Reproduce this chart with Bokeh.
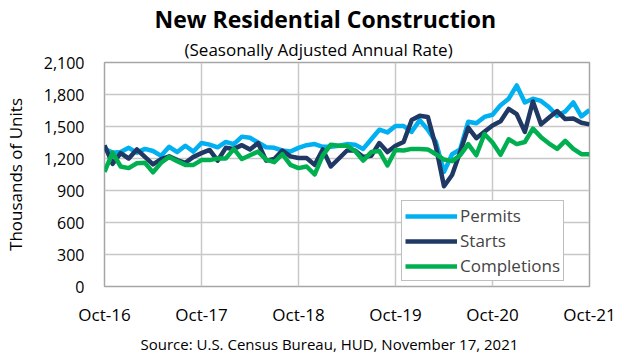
from bokeh.plotting import figure
from bokeh.models import (ColumnDataSource, Legend, LegendItem, Title,
                          FixedTicker, NumeralTickFormatter, Range1d)
from bokeh.embed import file_html
from bokeh.resources import INLINE

# ---- data (thousands of units, SAAR), monthly Oct-2016 .. Oct-2021 ----
months = list(range(61))
permits = [1290, 1255, 1260, 1300, 1255, 1290, 1270, 1225, 1310, 1260, 1320, 1265,
           1345, 1330, 1305, 1355, 1335, 1405, 1395, 1350, 1305, 1300, 1275, 1265,
           1300, 1325, 1335, 1310, 1310, 1320, 1335, 1330, 1290, 1380, 1470, 1445,
           1505, 1505, 1450, 1560, 1470, 1355, 1075, 1240, 1285, 1545, 1530, 1590,
           1610, 1700, 1760, 1885, 1725, 1760, 1740, 1680, 1600, 1640, 1725, 1595,
           1655]
starts = [1323, 1150, 1250, 1200, 1285, 1215, 1145, 1195, 1220, 1185, 1160, 1215,
          1250, 1280, 1180, 1300, 1290, 1325, 1285, 1345, 1180, 1195, 1275, 1220,
          1205, 1205, 1140, 1285, 1125, 1200, 1275, 1275, 1215, 1225, 1345, 1260,
          1320, 1355, 1560, 1600, 1590, 1310, 940, 1045, 1260, 1490, 1390, 1450,
          1510, 1550, 1665, 1615, 1450, 1735, 1520, 1585, 1645, 1570, 1575, 1535,
          1520]
completions = [1075, 1255, 1125, 1110, 1155, 1160, 1070, 1160, 1215, 1175, 1140, 1140,
               1185, 1185, 1200, 1200, 1290, 1195, 1230, 1265, 1190, 1165, 1240, 1140,
               1110, 1125, 1050, 1230, 1330, 1320, 1320, 1270, 1180, 1260, 1270, 1135,
               1280, 1275, 1290, 1290, 1285, 1240, 1190, 1175, 1230, 1335, 1230, 1430,
               1350, 1235, 1380, 1335, 1355, 1480, 1400, 1340, 1290, 1365, 1290, 1240,
               1240]
x_ticks = [0, 12, 24, 36, 48, 60]
x_labels = ["Oct-16", "Oct-17", "Oct-18", "Oct-19", "Oct-20", "Oct-21"]
y_ticks = [0, 300, 600, 900, 1200, 1500, 1800, 2100]

FONT = "Open Sans"
C_PERMITS = "#00B0F0"
C_STARTS = "#1F3864"
C_COMPL = "#00B050"

src = ColumnDataSource(dict(m=months, p=permits, s=starts, c=completions))

p = figure(width=616, height=356, output_backend="svg", toolbar_location=None,
           x_range=Range1d(0, 60), y_range=Range1d(0, 2100),
           min_border_left=98, min_border_right=27, min_border_top=62,
           min_border_bottom=65, title=None)
p.background_fill_color = "white"
p.border_fill_color = "white"
p.outline_line_color = "#A6A6A6"
p.outline_line_width = 1.5

for ax in (p.xaxis[0], p.yaxis[0]):
    ax.axis_line_color = None
    ax.major_tick_line_color = None
    ax.minor_tick_line_color = None
    ax.major_label_text_font = FONT
    ax.major_label_text_color = "black"

p.xaxis.major_label_text_font_size = "17px"
p.yaxis.major_label_text_font_size = "16px"
p.xaxis.ticker = FixedTicker(ticks=x_ticks)
p.xaxis.major_label_overrides = {t: l for t, l in zip(x_ticks, x_labels)}
p.xaxis.major_label_standoff = 10
p.yaxis.ticker = FixedTicker(ticks=y_ticks)
p.yaxis.formatter = NumeralTickFormatter(format="0,0")
p.yaxis.major_label_standoff = 14
p.yaxis.axis_label = "Thousands of Units"
p.yaxis.axis_label_text_font = FONT
p.yaxis.axis_label_text_font_size = "17px"
p.yaxis.axis_label_text_font_style = "normal"
p.yaxis.axis_label_text_color = "black"
p.yaxis.axis_label_standoff = 14

p.xgrid.ticker = FixedTicker(ticks=x_ticks)
p.ygrid.ticker = FixedTicker(ticks=y_ticks)
for g in (p.xgrid[0], p.ygrid[0]):
    g.grid_line_color = "#C8C8C8"
    g.grid_line_width = 1.5

lw = 4.5
r1 = p.line("m", "p", source=src, line_color=C_PERMITS, line_width=lw, line_join="round")
r2 = p.line("m", "s", source=src, line_color=C_STARTS, line_width=lw, line_join="round")
r3 = p.line("m", "c", source=src, line_color=C_COMPL, line_width=lw, line_join="round")

legend = Legend(items=[LegendItem(label="Permits", renderers=[r1]),
                       LegendItem(label="Starts", renderers=[r2]),
                       LegendItem(label="Completions", renderers=[r3])],
                location=(297, 5))
legend.label_text_font = FONT
legend.label_text_font_size = "17px"
legend.glyph_width = 52
legend.glyph_height = 20
legend.label_height = 20
legend.label_standoff = 3
legend.spacing = 2
legend.padding = 3
legend.margin = 0
legend.border_line_color = "#7F7F7F"
legend.border_line_width = 1.5
legend.background_fill_alpha = 1.0
p.add_layout(legend, "center")

sub = Title(text="(Seasonally Adjusted Annual Rate)", align="left",
            text_font=FONT, text_font_size="17px", text_font_style="normal",
            text_color="black", offset=80, standoff=3)
p.add_layout(sub, "above")
main = Title(text="New Residential Construction", align="left",
             text_font=FONT, text_font_size="23px", text_font_style="bold",
             text_color="black", offset=50, standoff=0)
p.add_layout(main, "above")
source_t = Title(text="Source:  U.S. Census Bureau, HUD, November 17, 2021",
                 align="left", text_font=FONT, text_font_size="15px",
                 text_font_style="normal", text_color="black", offset=36,
                 standoff=6)
p.add_layout(source_t, "below")

open("out.html", "w").write(file_html(p, INLINE))
